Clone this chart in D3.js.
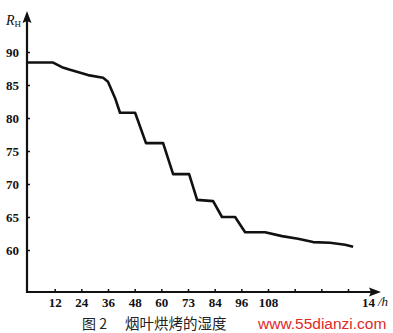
<!DOCTYPE html>
<html>
<head>
<meta charset="utf-8">
<script src="https://cdn.jsdelivr.net/npm/d3@7"></script>
<style>
  body { margin: 0; background: #fff; }
  svg { display: block; }
  .axis text { font-family: "Liberation Serif", "DejaVu Serif", serif; font-size: 13px; font-weight: bold; fill: #111; }
  .axis line { stroke: #111; stroke-width: 1.5; }
</style>
</head>
<body>
<svg id="chart" width="393" height="333"></svg>
<script>
// data
var hours = [0, 11.3, 15.3, 18.9, 27, 33.8, 36, 39.2, 41.4, 48.2, 53.1, 60.8, 65.3, 72.5,
             76.1, 83.3, 87.3, 93.2, 97.7, 106.7, 114.3, 121.5, 128.3, 135.9, 142.7, 146.3];
var humidity = [88.4, 88.4, 87.7, 87.3, 86.5, 86.1, 85.5, 83.0, 80.8, 80.8, 76.2, 76.2, 71.5, 71.5,
                67.6, 67.4, 65.0, 65.0, 62.7, 62.7, 62.1, 61.7, 61.2, 61.1, 60.8, 60.5];
var yTicks = [60, 65, 70, 75, 80, 85, 90];
var xTicks = [12, 24, 36, 48, 60, 72, 84, 96, 108, 120, 132, 144, 153];
var xLabels = ['12', '24', '36', '48', '60', '73', '84', '96', '108', '', '', '', '14'];

var svg = d3.select('#chart');

var x = d3.scaleLinear().domain([0, 108]).range([28, 268]);
var y = d3.scaleLinear().domain([60, 90]).range([250, 52]);
var originX = 27, originY = 292;

// x axis ticks + labels
var xAxis = svg.append('g')
    .attr('class', 'axis')
    .attr('transform', 'translate(0,' + originY + ')')
    .call(d3.axisBottom(x).tickValues(xTicks)
        .tickFormat(function (d, i) { return xLabels[i]; })
        .tickSize(-3).tickPadding(6));
xAxis.select('.domain').remove();
xAxis.selectAll('.tick').filter(function (d) { return d == 153; }).select('line').remove();

// y axis ticks + labels
var yAxis = svg.append('g')
    .attr('class', 'axis')
    .attr('transform', 'translate(' + originX + ',0)')
    .call(d3.axisLeft(y).tickValues(yTicks).tickSize(-3).tickPadding(8));
yAxis.select('.domain').remove();

// axis lines with arrows
svg.append('line')
    .attr('x1', originX).attr('y1', originY)
    .attr('x2', 372).attr('y2', originY)
    .attr('stroke', '#111').attr('stroke-width', 2.2);
svg.append('line')
    .attr('x1', originX).attr('y1', originY + 1)
    .attr('x2', originX).attr('y2', 18)
    .attr('stroke', '#111').attr('stroke-width', 2.2);
svg.append('path')
    .attr('d', 'M381,' + originY + ' L369,' + (originY - 4.5) + ' L371,' + originY + ' L369,' + (originY + 4.5) + ' Z')
    .attr('fill', '#111');
svg.append('path')
    .attr('d', 'M' + originX + ',11 L' + (originX - 4.5) + ',23 L' + originX + ',21 L' + (originX + 4.5) + ',23 Z')
    .attr('fill', '#111');

// humidity curve
var line = d3.line()
    .x(function (d, i) { return i == 0 ? originX : x(d); })
    .y(function (d, i) { return y(humidity[i]); });
svg.append('path')
    .datum(hours)
    .attr('d', line)
    .attr('fill', 'none')
    .attr('stroke', '#111')
    .attr('stroke-width', 2.6)
    .attr('stroke-linejoin', 'round');

// axis titles
var rh = svg.append('text')
    .attr('x', 6).attr('y', 25)
    .attr('font-family', 'Liberation Serif, serif')
    .attr('fill', '#111');
rh.append('tspan').attr('font-style', 'italic').attr('font-size', 14).text('R');
rh.append('tspan').attr('font-size', 9).attr('dy', 2).text('H');

svg.append('text')
    .attr('x', 378).attr('y', 306)
    .attr('font-family', 'Liberation Serif, serif')
    .attr('font-style', 'italic')
    .attr('font-size', 13)
    .attr('fill', '#111')
    .text('/h');

// caption
svg.append('text')
    .attr('x', 82).attr('y', 329)
    .attr('font-family', 'Noto Sans CJK SC, sans-serif')
    .attr('font-size', 14)
    .attr('fill', '#222')
    .text('图 2');
svg.append('text')
    .attr('x', 125).attr('y', 329)
    .attr('font-family', 'Noto Sans CJK SC, sans-serif')
    .attr('font-size', 14.5)
    .attr('fill', '#222')
    .text('烟叶烘烤的湿度');

// watermark
svg.append('text')
    .attr('x', 258).attr('y', 329)
    .attr('font-family', 'Liberation Sans, Arial, sans-serif')
    .attr('font-size', 15.5)
    .attr('fill', '#e02828')
    .text('www.55dianzi.com');
</script>
</body>
</html>
